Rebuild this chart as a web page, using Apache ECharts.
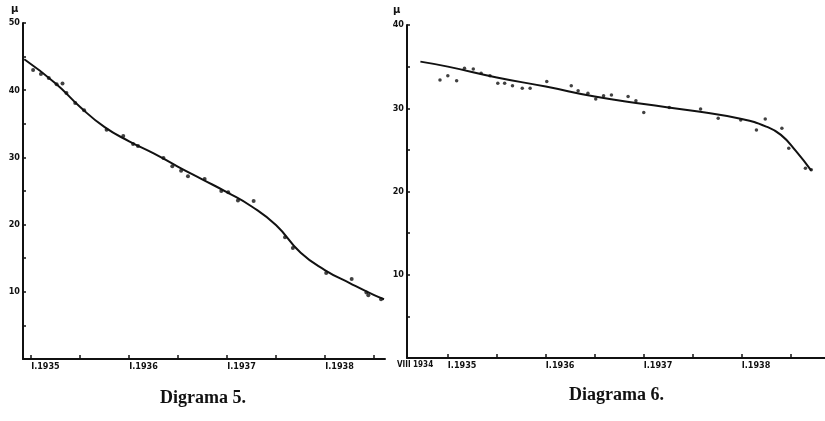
<!DOCTYPE html>
<html>
<head>
<meta charset="utf-8">
<script src="https://cdn.jsdelivr.net/npm/echarts@6/dist/echarts.min.js"></script>
<style>
html,body{margin:0;padding:0;background:#fff;}
#c{width:825px;height:421px;}
</style>
</head>
<body>
<div id="c"></div>
<script>
// ---- Diagram 5 (left) ----
const obs5X = [1935.02,1935.10,1935.18,1935.26,1935.32,1935.36,1935.45,1935.54,1935.77,1935.94,1936.04,1936.09,1936.35,1936.44,1936.53,1936.60,1936.77,1936.94,1937.01,1937.11,1937.27,1937.59,1937.67,1938.01,1938.27,1938.42,1938.44,1938.57];
const obs5Y = [43.0,42.4,41.8,40.9,41.0,39.6,38.1,37.0,34.1,33.2,32.0,31.7,29.9,28.7,28.0,27.2,26.8,25.0,24.8,23.6,23.5,18.1,16.5,12.8,11.9,9.9,9.5,8.9];
const fit5X = [1934.93,1935.25,1935.5,1935.75,1936.0,1936.25,1936.5,1936.75,1937.0,1937.25,1937.5,1937.75,1938.0,1938.25,1938.5,1938.6];
const fit5Y = [44.6,41.0,37.5,34.5,32.4,30.6,28.6,26.7,24.8,22.7,19.9,15.8,13.2,11.3,9.5,8.9];

// ---- Diagram 6 (right) ----
const obs6X = [1934.92,1935.00,1935.09,1935.17,1935.26,1935.34,1935.43,1935.51,1935.58,1935.66,1935.76,1935.84,1936.01,1936.26,1936.33,1936.43,1936.51,1936.59,1936.67,1936.84,1936.92,1937.00,1937.26,1937.58,1937.76,1937.99,1938.15,1938.24,1938.41,1938.48,1938.65,1938.71];
const obs6Y = [33.4,33.9,33.3,34.8,34.7,34.2,33.9,33.0,33.0,32.7,32.4,32.4,33.2,32.7,32.1,31.8,31.1,31.5,31.6,31.4,30.9,29.5,30.1,29.9,28.8,28.6,27.4,28.7,27.6,25.2,22.8,22.6];
const fit6X = [1934.72,1935.0,1935.5,1936.0,1936.5,1937.0,1937.5,1938.0,1938.25,1938.4,1938.55,1938.71];
const fit6Y = [35.6,35.0,33.7,32.6,31.4,30.5,29.7,28.7,27.8,26.8,24.9,22.5];

// ---- Tick labels ----
const xTicks5 = [1935,1935.5,1936,1936.5,1937,1937.5,1938,1938.5];
const xLabels5 = [1935,1936,1937,1938];
const xTicks6 = [1935,1935.5,1936,1936.5,1937,1937.5,1938,1938.5];
const xLabels6 = [1934.5833,1935,1936,1937,1938];
const yTicks5 = [10,20,30,40,50];
const yTicks6 = [10,20,30,40];
const captions = ['Digrama 5.','Diagrama 6.'];
const unitLabel = 'μ';

function yearLabel(v){
  if (Math.abs(v - 1934.5833) < 0.01) return '{v|VIII 1934}';
  return 'I.' + Math.round(v);
}
const zip = (a,b) => a.map((v,i)=>[v,b[i]]);

const ink = '#111';
const font = 'Liberation Sans Narrow, DejaVu Sans Condensed, Liberation Sans, sans-serif';
const lblStyle = {color: ink, fontSize: 9, fontWeight: 'bold', fontFamily: font};

function xAxis(gi, min, max, ticks, labels){
  return {
    type:'value', gridIndex: gi, min, max,
    axisLine:{show:true, lineStyle:{color:ink, width:2}},
    splitLine:{show:false},
    axisTick:{show:true, inside:true, length:4, customValues: ticks, lineStyle:{color:ink, width:1.5}},
    axisLabel:Object.assign({show:true, customValues: labels, formatter: yearLabel, align:'left', margin:3,
      rich:{v:{fontSize:8, fontWeight:'bold', fontFamily:font, color:ink, padding:[0,0,0,-10]}}}, lblStyle)
  };
}
function yAxis(gi, max, labels){
  return {
    type:'value', gridIndex: gi, min:0, max, interval:5,
    axisLine:{show:true, lineStyle:{color:ink, width:2}},
    splitLine:{show:false},
    axisTick:{show:true, inside:true, length:3, lineStyle:{color:ink, width:1.5}},
    axisLabel:Object.assign({show:true, customValues: labels, margin:3}, lblStyle)
  };
}

const chart = echarts.init(document.getElementById('c'), null, {renderer:'canvas'});
chart.setOption({
  backgroundColor:'#fff',
  animation:false,
  grid:[
    {left:23, top:23, width:362, bottom:62},
    {left:407, top:25, width:418, bottom:63}
  ],
  xAxis:[
    xAxis(0, 1934.917, 1938.61, xTicks5, xLabels5),
    xAxis(1, 1934.5833, 1938.85, xTicks6, xLabels6)
  ],
  yAxis:[
    yAxis(0, 50, yTicks5),
    yAxis(1, 40, yTicks6)
  ],
  series:[
    {type:'line', xAxisIndex:0, yAxisIndex:0, data: zip(fit5X, fit5Y), smooth:0.5, showSymbol:false, lineStyle:{color:ink, width:2}},
    {type:'scatter', xAxisIndex:0, yAxisIndex:0, data: zip(obs5X, obs5Y), symbolSize:4, itemStyle:{color:ink}},
    {type:'line', xAxisIndex:1, yAxisIndex:1, data: zip(fit6X, fit6Y), smooth:0.5, showSymbol:false, lineStyle:{color:ink, width:2}},
    {type:'scatter', xAxisIndex:1, yAxisIndex:1, data: zip(obs6X, obs6Y), symbolSize:3.5, itemStyle:{color:ink}}
  ],
  graphic:[
    {type:'text', left:11, top:4, style:{text:unitLabel, fill:ink, font:'bold 10px DejaVu Sans'}},
    {type:'text', left:393, top:5, style:{text:unitLabel, fill:ink, font:'bold 10px DejaVu Sans'}},
    {type:'text', left:160, top:389, style:{text:captions[0], fill:ink, font:'bold 18px Liberation Serif'}},
    {type:'text', left:569, top:386, style:{text:captions[1], fill:ink, font:'bold 18px Liberation Serif'}}
  ]
});
</script>
</body>
</html>
